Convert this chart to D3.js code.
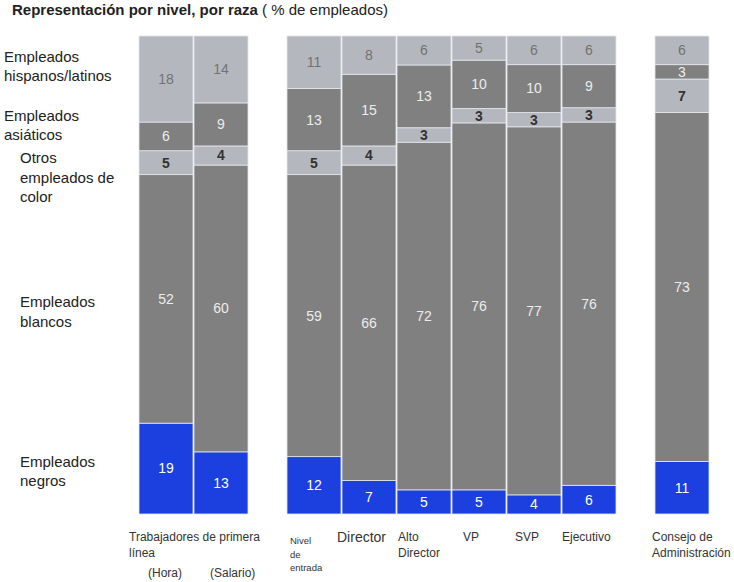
<!DOCTYPE html>
<html><head><meta charset="utf-8">
<script src="https://cdn.jsdelivr.net/npm/d3@7"></script>
<style>body{margin:0;background:#fff}svg{display:block;font-family:"Liberation Sans",Arial,Helvetica,sans-serif}</style>
</head><body><svg id="c" width="734" height="582"></svg>
<script>
// Data (bottom to top stacking order)
const categories = ["Hora","Salario","Nivel de entrada","Director","Alto Director","VP","SVP","Ejecutivo","Consejo de Administración"];
const groups     = [0,0,1,1,1,1,1,1,2];
const seriesKeys = ["negros","blancos","otros","asiaticos","hispanos"];
const negros     = [19,13,12,7,5,5,4,6,11];
const blancos    = [52,60,59,66,72,76,77,76,73];
const otros      = [5,4,5,4,3,3,3,3,7];
const asiaticos  = [6,9,13,15,13,10,10,9,3];
const hispanos   = [18,14,11,8,6,5,6,6,6];
const seriesLabels = [["Empleados","negros"],["Empleados","blancos"],["Otros","empleados de","color"],["Empleados","asiáticos"],["Empleados","hispanos/latinos"]];

const vals = {negros, blancos, otros, asiaticos, hispanos};
const rows = categories.map((c,i)=>{const r={cat:c,group:groups[i]};seriesKeys.forEach(k=>r[k]=vals[k][i]);return r;});

const fill  = {negros:"#1c40e0", blancos:"#808080", otros:"#b4b8be", asiaticos:"#808080", hispanos:"#b4b8be"};
const tcol  = {negros:"#ffffff", blancos:"#ececec", otros:"#333333", asiaticos:"#ececec", hispanos:"#727272"};
const tw    = {negros:"normal", blancos:"normal", otros:"bold", asiaticos:"normal", hispanos:"normal"};

const svg = d3.select("#c");
const groupGap = 38;
const x = d3.scaleBand().domain(categories).range([139, 633]).paddingInner(1/55).paddingOuter(0);
const xp = (c,i) => x(c) + groups[i]*groupGap;
const y = d3.scaleLinear().domain([0,1]).range([514, 36]);

const stack = d3.stack().keys(seriesKeys).offset(d3.stackOffsetExpand);
const series = stack(rows);

series.forEach(s=>{
  const g = svg.append("g");
  g.selectAll("rect").data(s).join("rect")
    .attr("x",(d,i)=>xp(d.data.cat,i))
    .attr("y",d=>y(d[1]))
    .attr("width",x.bandwidth())
    .attr("height",d=>y(d[0])-y(d[1]))
    .attr("fill",fill[s.key])
    .attr("stroke","#e4e6ea").attr("stroke-width",0.8);
  g.selectAll("text").data(s).join("text")
    .attr("x",(d,i)=>xp(d.data.cat,i)+x.bandwidth()/2)
    .attr("y",d=>(y(d[0])+y(d[1]))/2)
    .attr("dy","0.35em")
    .attr("text-anchor","middle")
    .attr("font-size",14)
    .attr("font-weight",tw[s.key])
    .attr("fill",tcol[s.key])
    .text(d=>d.data[s.key]);
});

// Title
const t = svg.append("text").attr("x",12).attr("y",15).attr("font-size",15).attr("fill","#222");
t.append("tspan").attr("font-weight","bold").text("Representación por nivel, por raza");
t.append("tspan").text(" ( % de empleados)");

// Left labels
const leftLabels = [
  {lines:seriesLabels[4], x:4,  y:[57,76]},
  {lines:seriesLabels[3], x:4,  y:[116,135]},
  {lines:seriesLabels[2], x:20, y:[158,178,197]},
  {lines:seriesLabels[1], x:20, y:[302,322]},
  {lines:seriesLabels[0], x:20, y:[462,481]}
];
leftLabels.forEach(l=>{
  l.lines.forEach((ln,j)=>{
    svg.append("text").attr("x",l.x).attr("y",l.y[j]).attr("dy","0.35em")
      .attr("font-size",15).attr("fill","#222").text(ln);
  });
});

// Bottom labels
const bottom = [
  {t:["Trabajadores de primera","línea"], x:129, y:[537,553], fs:12},
  {t:["(Hora)"], x:148, y:[573], fs:12},
  {t:["(Salario)"], x:210, y:[573], fs:12},
  {t:["Nivel","de","entrada"], x:290, y:[541,555,568], fs:9.5},
  {t:["Director"], x:337, y:[537], fs:14},
  {t:["Alto","Director"], x:398, y:[537,553], fs:12},
  {t:["VP"], x:463, y:[537], fs:12},
  {t:["SVP"], x:515, y:[537], fs:12},
  {t:["Ejecutivo"], x:562, y:[537], fs:12},
  {t:["Consejo de","Administración"], x:652, y:[537,553], fs:12}
];
bottom.forEach(b=>b.t.forEach((ln,j)=>{
  svg.append("text").attr("x",b.x).attr("y",b.y[j]).attr("dy","0.35em")
    .attr("font-size",b.fs).attr("fill","#333").text(ln);
}));
</script></body></html>
